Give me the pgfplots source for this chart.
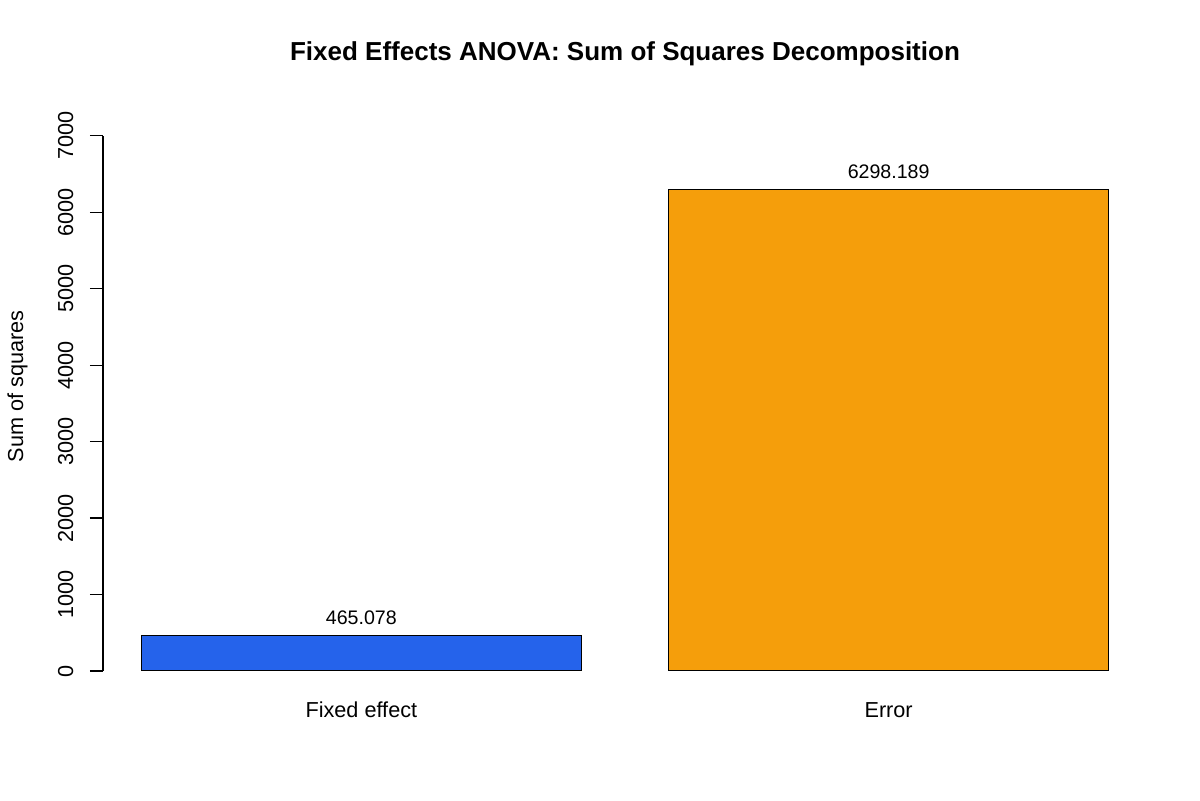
\documentclass[border=0pt]{standalone}
\usepackage{pgfplots}
\pgfplotsset{compat=1.18}
\usepackage{fontspec}
\setmainfont{Liberation Sans}
\definecolor{barblue}{HTML}{2563EB}
\definecolor{barorange}{HTML}{F59E0B}
\begin{document}
\begin{tikzpicture}
\path[use as bounding box] (0,0) rectangle (600pt,400pt);
\begin{axis}[
  at={(51.5pt,53.8pt)}, anchor=south west,
  scale only axis, width=522pt, height=289.06pt,
  xmin=0.112, xmax=2.488, ymin=-280, ymax=7280,
  axis line style={draw=none},
  xtick={0.7,1.9}, xticklabels={Fixed effect, Error},
  xtick style={draw=none},
  ytick={0,1000,2000,3000,4000,5000,6000,7000},
  ytick pos=left,
  ytick style={black, line width=0.6pt},
  tick align=outside, major tick length=6.5pt,
  /pgf/number format/assume math mode=true,
  /pgf/number format/1000 sep={},
  tick label style={font=\fontsize{10.83pt}{13pt}\selectfont},
  xticklabel style={anchor=base, yshift=-6.15pt},
  yticklabel style={rotate=90, anchor=base, yshift=8.5pt},
  title={\textbf{Fixed Effects ANOVA: Sum of Squares Decomposition}},
  title style={font=\fontsize{13pt}{15pt}\selectfont, at={(0.5,1.072)}, anchor=base},
  ylabel={Sum of squares},
  ylabel style={font=\fontsize{10.83pt}{13pt}\selectfont, at={(-0.0765,0.529)}, anchor=base},
  clip=false,
]
% sum of squares per source
\addplot[ybar, bar width=1, bar shift=0pt, fill=barblue, draw=black, line width=0.5pt,
  point meta=explicit symbolic, nodes near coords,
  every node near coord/.append style={anchor=base, yshift=5.5pt, font=\fontsize{9.8pt}{12pt}\selectfont}]
  coordinates {(0.7,465.078) [465.078]};
\addplot[ybar, bar width=1, bar shift=0pt, fill=barorange, draw=black, line width=0.5pt,
  point meta=explicit symbolic, nodes near coords,
  every node near coord/.append style={anchor=base, yshift=5.5pt, font=\fontsize{9.8pt}{12pt}\selectfont}]
  coordinates {(1.9,6298.189) [6298.189]};
% y axis line spans the tick range only
\draw[black, line width=0.6pt] ({rel axis cs:0,0}|-{axis cs:0,0}) -- ({rel axis cs:0,0}|-{axis cs:0,7000});
\end{axis}
\end{tikzpicture}
\end{document}
